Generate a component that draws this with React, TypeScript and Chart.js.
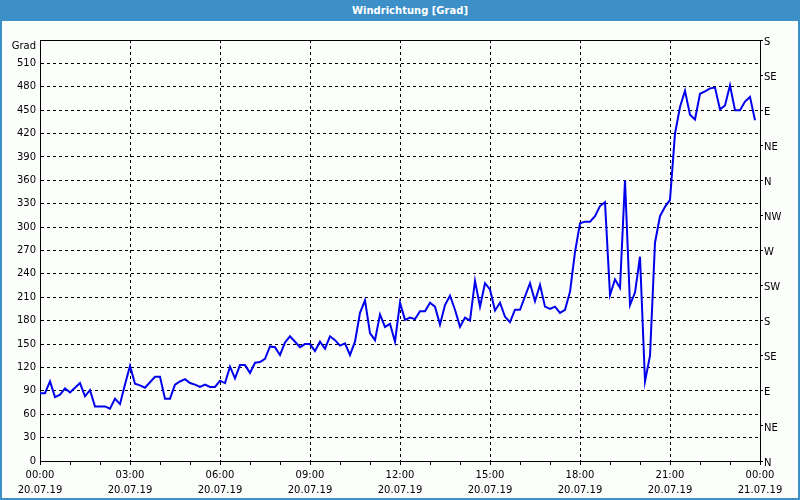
import React, { useEffect, useRef } from 'react';
import { Chart, registerables } from 'chart.js';

Chart.register(...registerables);

// 10-minute categories, 20.07.19 00:00 -> 21.07.19 00:00
const timeLabels: string[] = [];
for (let m = 0; m <= 24 * 60; m += 10) {
  const h = Math.floor(m / 60) % 24;
  const mm = m % 60;
  timeLabels.push(`${String(h).padStart(2, '0')}:${String(mm).padStart(2, '0')}`);
}

const xTickTimes = ['00:00', '03:00', '06:00', '09:00', '12:00', '15:00', '18:00', '21:00', '00:00'];
const xTickDates = ['20.07.19', '20.07.19', '20.07.19', '20.07.19', '20.07.19', '20.07.19', '20.07.19', '20.07.19', '21.07.19'];

const directionLabels = ['N', 'NE', 'E', 'SE', 'S', 'SW', 'W', 'NW', 'N', 'NE', 'E', 'SE', 'S'];

const windDirection = [
  87, 87, 102, 82, 85, 93, 88, 94, 100, 83,
  91, 70, 70, 70, 67, 80, 73, 98, 122, 99,
  97, 94, 101, 108, 108, 80, 80, 98, 102, 105,
  100, 98, 95, 98, 95, 95, 103, 100, 121, 106,
  123, 123, 113, 126, 127, 131, 147, 146, 136, 152,
  160, 153, 146, 150, 150, 141, 153, 144, 160, 155,
  148, 151, 136, 153, 190, 206, 164, 155, 188, 172,
  176, 153, 203, 181, 184, 182, 192, 192, 203, 198,
  175, 200, 212, 194, 172, 184, 180, 231, 198, 228,
  220, 193, 203, 185, 178, 194, 194, 211, 228, 205,
  226, 198, 195, 198, 190, 194, 217, 268, 305, 307,
  307, 314, 327, 332, 213, 233, 222, 360, 200, 216,
  262, 102, 135, 280, 314, 326, 335, 420, 454, 475,
  444, 438, 471, 474, 478, 479, 451, 456, 482, 450,
  450, 461, 467, 437,
];

const FONT = 'DejaVu Sans';

const framePlugin = {
  id: 'frameAndUnit',
  afterDatasetsDraw(chart: any) {
    const { ctx, chartArea } = chart;
    ctx.save();
    ctx.strokeStyle = '#000';
    ctx.lineWidth = 1;
    ctx.setLineDash([]);
    ctx.beginPath();
    ctx.moveTo(chartArea.left, Math.round(chartArea.top) + 0.5);
    ctx.lineTo(chartArea.right + 1, Math.round(chartArea.top) + 0.5);
    ctx.stroke();
    ctx.fillStyle = '#000';
    ctx.font = `10px "${FONT}"`;
    ctx.textAlign = 'right';
    ctx.textBaseline = 'middle';
    ctx.fillText('Grad', chartArea.left - 4, chartArea.top + 6);
    ctx.restore();
  },
};

export default function App() {
  const canvasRef = useRef<HTMLCanvasElement | null>(null);

  useEffect(() => {
    document.body.style.margin = '0';
    const canvas = canvasRef.current;
    if (!canvas) return;
    const chart = new Chart(canvas, {
      type: 'line',
      data: {
        labels: timeLabels,
        datasets: [
          {
            label: 'Windrichtung',
            data: windDirection,
            borderColor: '#0000ec',
            borderWidth: 2,
            pointRadius: 0,
            tension: 0,
            fill: false,
            yAxisID: 'y',
          },
        ],
      },
      options: {
        animation: false,
        responsive: false,
        maintainAspectRatio: false,
        layout: { padding: { top: 19, left: 0, right: 0, bottom: 0 } },
        plugins: {
          legend: { display: false },
          title: { display: false },
          tooltip: { enabled: false },
        },
        scales: {
          x: {
            type: 'category',
            offset: false,
            afterFit: (scale: any) => {
              scale.height = 37;
            },
            grid: {
              display: true,
              drawOnChartArea: true,
              drawTicks: true,
              tickLength: 4,
              color: (c: any) => (c.index % 18 === 0 && c.index !== 0 && c.index !== 144 ? '#000' : 'transparent'),
              tickColor: (c: any) => (c.index % 6 === 0 ? '#000' : 'transparent'),
              lineWidth: 1,
            },
            border: { display: true, color: '#000', width: 1, dash: [3, 3] },
            ticks: {
              autoSkip: false,
              maxRotation: 0,
              minRotation: 0,
              padding: 3,
              color: '#000',
              font: { family: FONT, size: 10, lineHeight: 1.5 },
              callback: (_v: any, index: number) => {
                if (index % 18 !== 0) return '';
                const k = index / 18;
                return [xTickTimes[k], xTickDates[k]];
              },
            },
          },
          y: {
            type: 'linear',
            position: 'left',
            min: 0,
            max: 540,
            afterFit: (scale: any) => {
              scale.width = 38;
            },
            grid: {
              display: true,
              drawTicks: false,
              color: (c: any) => (c.tick && (c.tick.value === 0 || c.tick.value === 540) ? 'transparent' : '#000'),
              lineWidth: 1,
            },
            border: { display: true, color: '#000', width: 1, dash: [3, 3] },
            ticks: {
              stepSize: 30,
              padding: 4,
              color: '#000',
              font: { family: FONT, size: 10 },
              callback: (v: any) => (v === 540 ? '' : String(v)),
            },
          },
          y2: {
            type: 'linear',
            position: 'right',
            min: 0,
            max: 540,
            afterFit: (scale: any) => {
              scale.width = 38;
            },
            grid: {
              display: true,
              drawOnChartArea: false,
              drawTicks: true,
              tickLength: 3,
              tickColor: '#000',
            },
            border: { display: true, color: '#000', width: 1 },
            ticks: {
              stepSize: 45,
              padding: 1,
              labelOffset: 2,
              color: '#000',
              font: { family: FONT, size: 10 },
              callback: (v: any) => directionLabels[Math.round(Number(v) / 45)] ?? '',
            },
          },
        },
      } as any,
      plugins: [framePlugin],
    });
    return () => chart.destroy();
  }, []);

  return (
    <div
      style={{
        position: 'relative',
        width: 800,
        height: 500,
        background: '#3c8fc7',
        overflow: 'hidden',
      }}
    >
      <div
        style={{
          position: 'absolute',
          left: 20,
          top: 0,
          width: 780,
          height: 21,
          lineHeight: '21px',
          textAlign: 'center',
          color: '#ffffff',
          fontFamily: `"${FONT}", sans-serif`,
          fontWeight: 'bold',
          fontSize: 10,
        }}
      >
        Windrichtung [Grad]
      </div>
      <div
        style={{
          position: 'absolute',
          left: 2,
          top: 21,
          width: 796,
          height: 477,
          background: '#fcfefc',
        }}
      >
        <canvas ref={canvasRef} width={796} height={477} style={{ display: 'block', width: 796, height: 477 }} />
      </div>
    </div>
  );
}
